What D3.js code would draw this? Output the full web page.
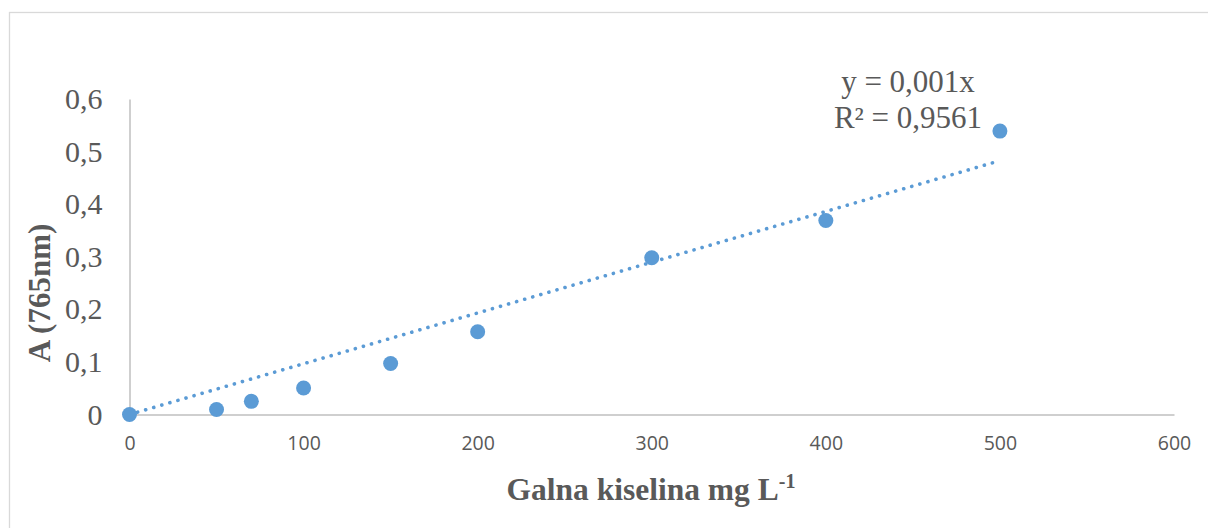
<!DOCTYPE html>
<html>
<head>
<meta charset="utf-8">
<script src="https://cdn.jsdelivr.net/npm/d3@7"></script>
<style>
  html, body { margin: 0; padding: 0; background: #fff; }
  svg { display: block; }
</style>
</head>
<body>
<div id="chart"></div>
<script>
// Galna kiselina (mg/L) vs absorbance at 765 nm
const concentrations = [0, 50, 70, 100, 150, 200, 300, 400, 500];
const absorbance = [0, 0.0095, 0.025, 0.0505, 0.097, 0.1575, 0.298, 0.369, 0.539];
const xTicks = [0, 100, 200, 300, 400, 500, 600];
const yTicks = [0, 0.1, 0.2, 0.3, 0.4, 0.5, 0.6];
const equationLines = ["y = 0,001x", "R² = 0,9561"];

const width = 1208, height = 528;
const margin = { left: 129.5, right: 34, top: 99, bottom: 113.5 };
const blue = "#5B9BD5";
const textGray = "#595959";

const svg = d3.select("#chart")
  .append("svg")
  .attr("width", width)
  .attr("height", height);

// outer chart frame (runs off the right and bottom of the picture)
svg.append("rect")
  .attr("x", 9.5).attr("y", 12.5)
  .attr("width", 1400).attr("height", 700)
  .attr("fill", "none")
  .attr("stroke", "#d9d9d9")
  .attr("stroke-width", 1.3);

const x = d3.scaleLinear().domain([0, 600]).range([margin.left, width - margin.right]);
const y = d3.scaleLinear().domain([0, 0.6]).range([height - margin.bottom, margin.top]);

const fmt = v => d3.format(".1~f")(v).replace(".", ",");

// x axis
const xAxis = svg.append("g")
  .attr("transform", `translate(0,${y(0)})`)
  .call(d3.axisBottom(x).tickValues(xTicks).tickSize(0).tickPadding(22));
xAxis.select(".domain").attr("stroke", "#bfbfbf").attr("stroke-width", 1.5);
xAxis.selectAll("text")
  .attr("font-family", "'Open Sans', sans-serif")
  .attr("font-size", 19.5)
  .attr("fill", textGray);

// y axis
const yAxis = svg.append("g")
  .attr("transform", `translate(${x(0)},0)`)
  .call(d3.axisLeft(y).tickValues(yTicks).tickFormat(fmt).tickSize(0).tickPadding(27));
yAxis.select(".domain").attr("stroke", "#bfbfbf").attr("stroke-width", 1.5);
yAxis.selectAll("text")
  .attr("font-family", "'Liberation Serif', 'Times New Roman', serif")
  .attr("font-size", 30)
  .attr("fill", textGray);

// trendline through the origin (least squares, intercept fixed at 0)
const slope = d3.sum(concentrations, (c, i) => c * absorbance[i]) / d3.sum(concentrations, c => c * c);
const xMax = d3.max(concentrations);
svg.append("line")
  .attr("x1", x(0)).attr("y1", y(0))
  .attr("x2", x(xMax)).attr("y2", y(slope * xMax))
  .attr("stroke", blue)
  .attr("stroke-width", 3.6)
  .attr("stroke-linecap", "round")
  .attr("stroke-dasharray", "0.1 8.3");

// data points
svg.selectAll("circle.pt")
  .data(concentrations)
  .enter()
  .append("circle")
  .attr("class", "pt")
  .attr("cx", d => x(d))
  .attr("cy", (d, i) => y(absorbance[i]))
  .attr("r", 7.5)
  .attr("fill", blue);

// trendline label
svg.selectAll("text.eq")
  .data(equationLines)
  .enter()
  .append("text")
  .attr("class", "eq")
  .attr("x", 908)
  .attr("y", (d, i) => 92 + i * 36)
  .attr("text-anchor", "middle")
  .attr("font-family", "'Liberation Serif', 'Times New Roman', serif")
  .attr("font-size", 31)
  .attr("fill", textGray)
  .text(d => d);

// axis titles
svg.append("text")
  .attr("transform", "translate(50,293) rotate(-90)")
  .attr("text-anchor", "middle")
  .attr("font-family", "'Liberation Serif', 'Times New Roman', serif")
  .attr("font-weight", "bold")
  .attr("font-size", 31)
  .attr("fill", textGray)
  .text("A (765nm)");

const xTitle = svg.append("text")
  .attr("x", 651)
  .attr("y", 500)
  .attr("text-anchor", "middle")
  .attr("font-family", "'Liberation Serif', 'Times New Roman', serif")
  .attr("font-weight", "bold")
  .attr("font-size", 31.5)
  .attr("fill", textGray);
xTitle.append("tspan").text("Galna kiselina mg L");
xTitle.append("tspan").attr("font-size", 20).attr("dy", -12).text("-1");
</script>
</body>
</html>
